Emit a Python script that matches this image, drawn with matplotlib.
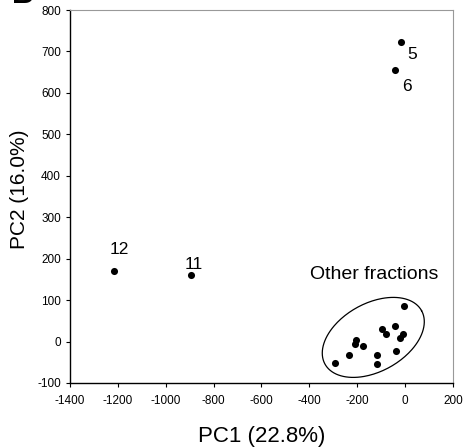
import numpy as np
import matplotlib
matplotlib.use("Agg")
import matplotlib.pyplot as plt

plt.rcParams['font.family'] = ['Liberation Sans', 'DejaVu Sans']
plt.rcParams['axes.unicode_minus'] = False

# Data
labeled_names = ["5", "6", "12", "11"]
labeled_x = [-18, -43, -1218, -895]
labeled_y = [723, 655, 171, 160]

other_x = [-4, -42, -97, -79, -10, -21, -38, -118, -118, -206, -209, -174, -235, -295]
other_y = [86, 37, 30, 19, 18, 8, -22, -33, -54, 3, -7, -11, -33, -51]

xticks = [-1400, -1200, -1000, -800, -600, -400, -200, 0, 200]
yticks = [-100, 0, 100, 200, 300, 400, 500, 600, 700, 800]

fig = plt.figure(figsize=(4.67, 4.47), dpi=100)
ax = fig.add_axes([0.1499, 0.1432, 0.970 - 0.1499, 0.9776 - 0.1432])

ax.scatter(labeled_x + other_x, labeled_y + other_y, s=26, color='black', zorder=3, linewidths=0)

ax.set_xlim(-1400, 200)
ax.set_ylim(-100, 800)
ax.set_xticks(xticks)
ax.set_yticks(yticks)
ax.tick_params(labelsize=8.5, direction='out', length=3, width=0.8, top=False, right=False)
ax.tick_params(axis='x', pad=6)
for side in ['top', 'right']:
    ax.spines[side].set_color('#999999')
    ax.spines[side].set_linewidth(0.8)
for side in ['left', 'bottom']:
    ax.spines[side].set_linewidth(1.0)

ax.set_xlabel("PC1 (22.8%)", fontsize=16, labelpad=13)
ax.set_ylabel("PC2 (16.0%)", fontsize=15, labelpad=6, y=0.52)

# point labels (offsets in points)
offsets = {"5": (8, -9), "6": (9, -11.5), "12": (4, 15), "11": (2, 8)}
for n, x, y in zip(labeled_names, labeled_x, labeled_y):
    dx, dy = offsets[n]
    ax.annotate(n, (x, y), xytext=(dx, dy), textcoords='offset points',
                ha='center', va='center', fontsize=12.5)

ax.annotate("Other fractions", (-130, 95), xytext=(0, 20), textcoords='offset points',
            ha='center', va='center', fontsize=14)

# ellipse around other fractions (drawn in pixel-like geometry)
px_per_x = 383 / 1600.0
px_per_y = 373 / 900.0
a, b, ang = 55.2, 34.0, np.deg2rad(29)
t = np.linspace(0, 2 * np.pi, 200)
ex_px = a * np.cos(t) * np.cos(ang) - b * np.sin(t) * np.sin(ang)
ey_px = a * np.cos(t) * np.sin(ang) + b * np.sin(t) * np.cos(ang)
cx, cy = -133, 10
ax.plot(cx + ex_px / px_per_x, cy + ey_px / px_per_y, color='black', lw=0.9)

fig.text(0.025, 1 - 3 / 447, "B", fontsize=22, fontweight='bold', ha='left', va='baseline')

fig.savefig("out.png", dpi=100)
